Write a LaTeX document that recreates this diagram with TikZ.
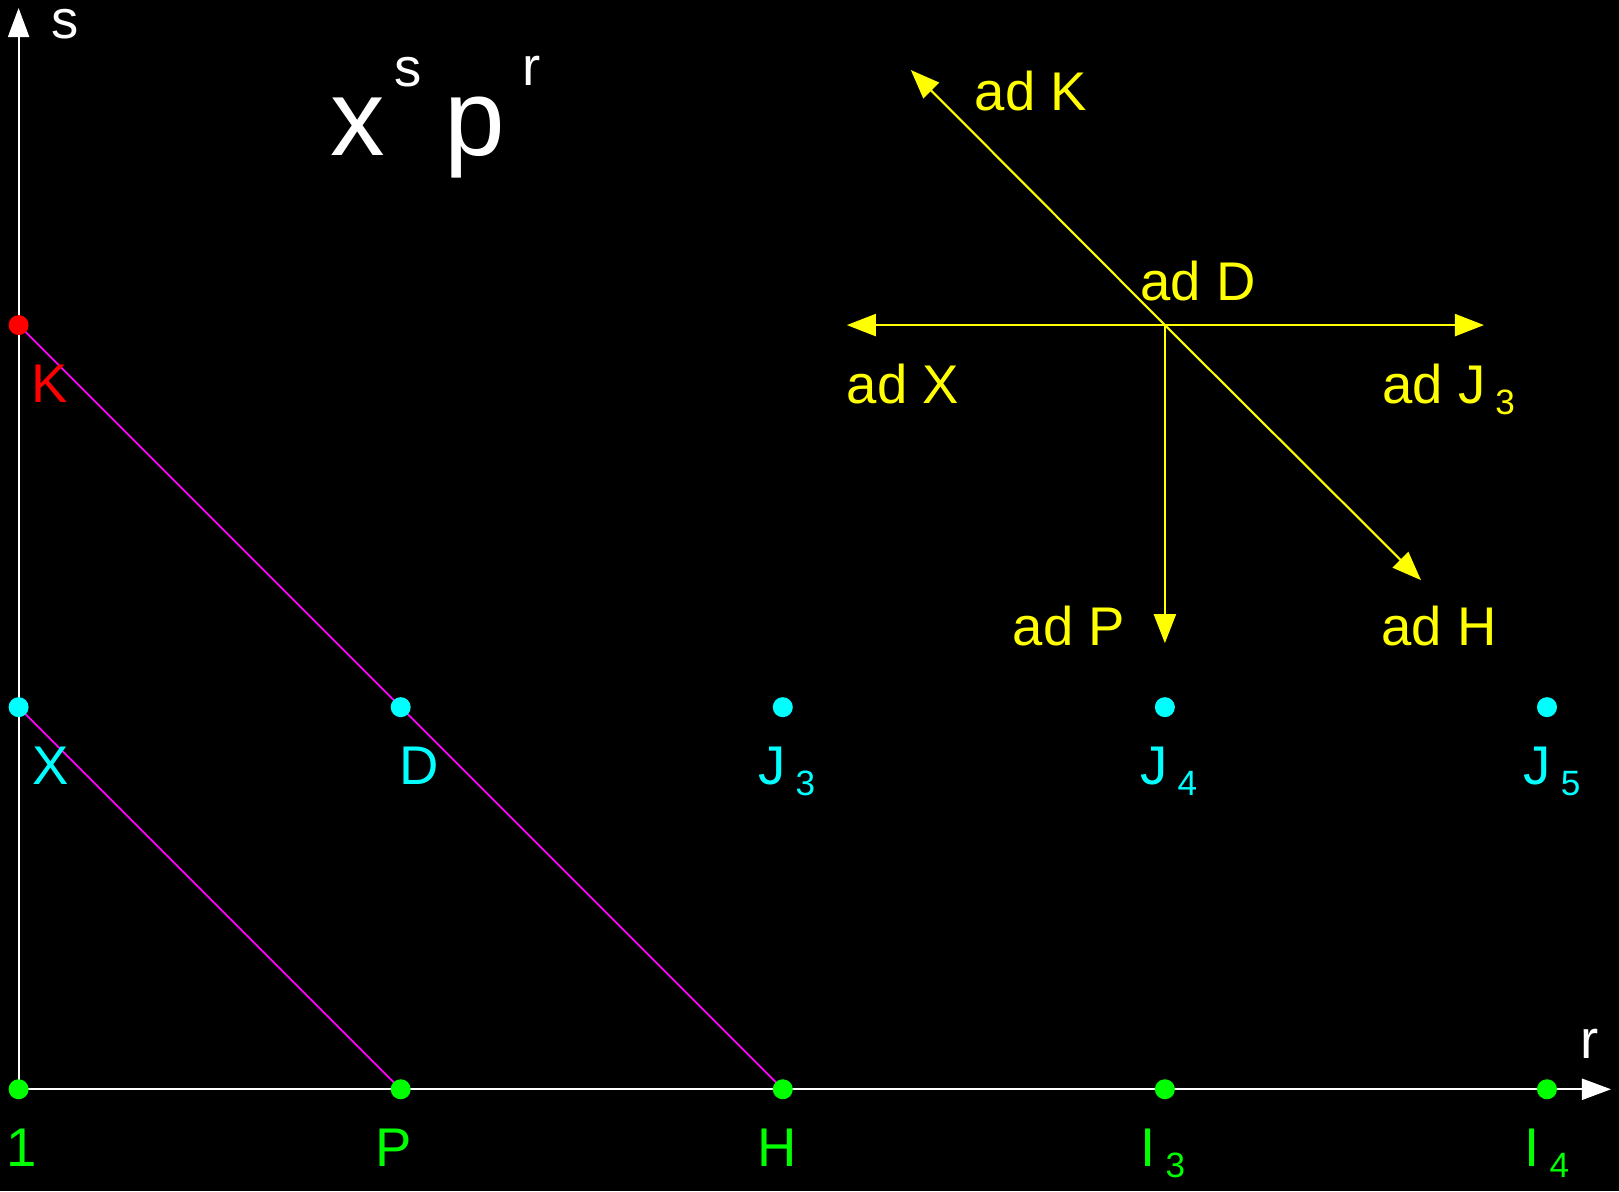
\documentclass[tikz,border=0pt]{standalone}
\usepackage{fontspec}
\setmainfont{Liberation Sans}
\usetikzlibrary{calc,arrows.meta}
\definecolor{ad-yellow}{HTML}{FFFF00}
\definecolor{gen-green}{HTML}{00FF00}
\definecolor{gen-cyan}{HTML}{00FFFF}
\definecolor{gen-red}{HTML}{FF0000}
\definecolor{gen-magenta}{HTML}{FF00FF}
\newcommand{\lowidx}[1]{{\fontsize{10}{12}\selectfont\kern2.8pt\raisebox{-3.2pt}{#1}}}
\def\g{3.82}

\begin{document}
\begin{tikzpicture}[
    lbl/.style={font=\fontsize{15.5}{18}\selectfont, inner sep=0pt, anchor=base west},
    big/.style={font=\fontsize{31}{36}\selectfont, text=white, inner sep=0pt, anchor=base},
    sup/.style={font=\fontsize{15.5}{18}\selectfont, text=white, inner sep=0pt, anchor=base},
    dot/.style={circle, inner sep=0pt, minimum size=0.2cm},
    axis/.style={white, line width=0.6pt, -{Triangle[length=0.29cm,width=0.21cm]}},
    adarr/.style={ad-yellow, line width=0.6pt, -{Triangle[length=0.29cm,width=0.22cm]}},
    diag/.style={gen-magenta, line width=0.5pt}]
    % Background and frame
    \fill[black] (-0.186,-1.02) rectangle (16.0,10.89);
    \useasboundingbox (-0.186,-1.02) rectangle (16.0,10.89);
    % Grid points (r,s)
    \coordinate (one) at (0,0);
    \coordinate (P) at (\g,0);
    \coordinate (H) at (2*\g,0);
    \coordinate (I3) at (3*\g,0);
    \coordinate (I4) at (4*\g,0);
    \coordinate (X) at (0,\g);
    \coordinate (D) at (\g,\g);
    \coordinate (J3) at (2*\g,\g);
    \coordinate (J4) at (3*\g,\g);
    \coordinate (J5) at (4*\g,\g);
    \coordinate (K) at (0,2*\g);
    % Axes
    \coordinate (sTip) at (0,10.81);
    \coordinate (rTip) at (15.92,0);
    \draw[axis] (one) -- (sTip);
    \draw[axis] (one) -- (rTip);
    \node[sup] (sLab) at (0.47,10.51) {s};
    \node[sup] (rLab) at (15.71,0.31) {r};
    % Monomial x^s p^r
    \node[big] (tx) at (3.39,9.34) {x};
    \node[sup] (ts) at (3.89,10.03) {s};
    \node[big] (tp) at (4.56,9.34) {p};
    \node[sup] (tr) at (5.13,10.04) {r};
    % Lines of constant degree
    \draw[diag] (K) -- (H);
    \draw[diag] (X) -- (P);
    % Generators
    \node[dot, fill=gen-green] (d1) at (one) {};
    \node[dot, fill=gen-green] (dP) at (P) {};
    \node[dot, fill=gen-green] (dH) at (H) {};
    \node[dot, fill=gen-green] (dI3) at (I3) {};
    \node[dot, fill=gen-green] (dI4) at (I4) {};
    \node[dot, fill=gen-cyan] (dX) at (X) {};
    \node[dot, fill=gen-cyan] (dD) at (D) {};
    \node[dot, fill=gen-cyan] (dJ3) at (J3) {};
    \node[dot, fill=gen-cyan] (dJ4) at (J4) {};
    \node[dot, fill=gen-cyan] (dJ5) at (J5) {};
    \node[dot, fill=gen-red] (dK) at (K) {};
    \node[lbl, gen-green] (l1) at ([shift={(-0.13,-0.77)}]one) {1};
    \node[lbl, gen-green] (lP) at ([shift={(-0.26,-0.77)}]P) {P};
    \node[lbl, gen-green] (lH) at ([shift={(-0.26,-0.77)}]H) {H};
    \node[lbl, gen-green] (lI3) at ([shift={(-0.25,-0.77)}]I3) {I\lowidx{3}};
    \node[lbl, gen-green] (lI4) at ([shift={(-0.23,-0.77)}]I4) {I\lowidx{4}};
    \node[lbl, gen-cyan] (lX) at ([shift={(0.13,-0.77)}]X) {X};
    \node[lbl, gen-cyan] (lD) at ([shift={(-0.02,-0.77)}]D) {D};
    \node[lbl, gen-cyan] (lJ3) at ([shift={(-0.25,-0.77)}]J3) {J\lowidx{3}};
    \node[lbl, gen-cyan] (lJ4) at ([shift={(-0.25,-0.77)}]J4) {J\lowidx{4}};
    \node[lbl, gen-cyan] (lJ5) at ([shift={(-0.24,-0.77)}]J5) {J\lowidx{5}};
    \node[lbl, gen-red] (lK) at ([shift={(0.125,-0.77)}]K) {K};
    % Adjoint actions
    \coordinate (adc) at (3*\g,2*\g);
    \coordinate (adKtip) at ($(adc)+(-2.54,2.55)$);
    \coordinate (adHtip) at ($(adc)+(2.56,-2.55)$);
    \coordinate (adXtip) at ($(adc)+(-3.18,0)$);
    \coordinate (adJtip) at ($(adc)+(3.19,0)$);
    \coordinate (adPtip) at ($(adc)+(0,-3.18)$);
    \draw[adarr] (adc) -- (adKtip);
    \draw[adarr] (adc) -- (adHtip);
    \draw[adarr] (adc) -- (adXtip);
    \draw[adarr] (adc) -- (adJtip);
    \draw[adarr] (adc) -- (adPtip);
    \node[lbl, ad-yellow, anchor=base] (adK) at (10.12,9.79) {ad K};
    \node[lbl, ad-yellow, anchor=base] (adD) at (11.79,7.89) {ad D};
    \node[lbl, ad-yellow, anchor=base] (adX) at (8.84,6.86) {ad X};
    \node[lbl, ad-yellow] (adJ) at (13.63,6.86) {ad J\lowidx{3}};
    \node[lbl, ad-yellow, anchor=base] (adP) at (10.50,4.44) {ad P};
    \node[lbl, ad-yellow, anchor=base] (adH) at (14.20,4.44) {ad H};
\end{tikzpicture}
\end{document}
